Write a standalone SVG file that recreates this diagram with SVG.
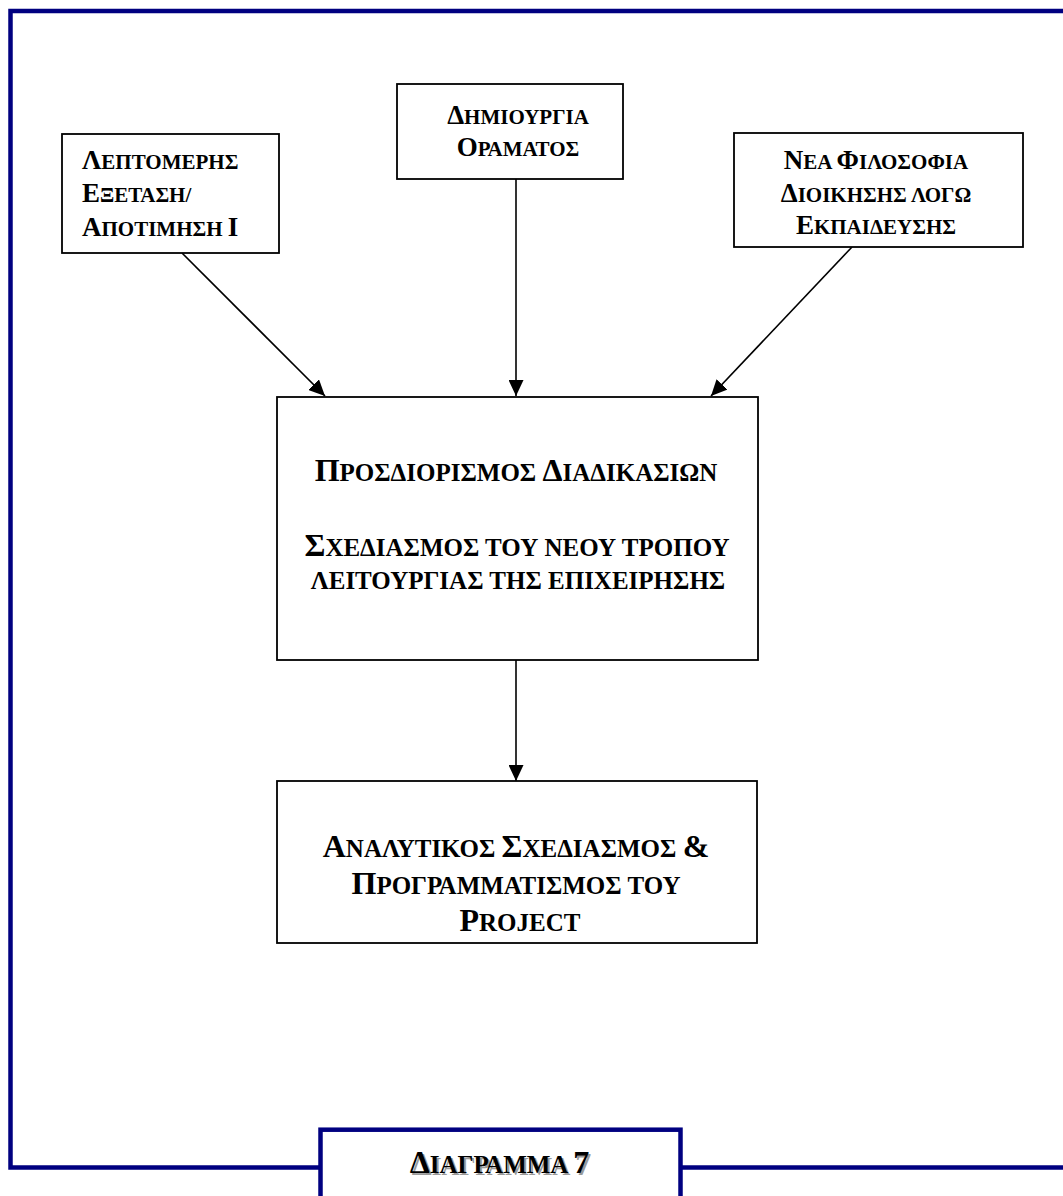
<svg xmlns="http://www.w3.org/2000/svg" width="1063" height="1196" viewBox="0 0 1063 1196">
  <style>
    text { font-family: "Liberation Serif", "Times New Roman", "DejaVu Serif", serif; font-weight: bold; fill: #000; }
    .box { fill: #fff; stroke: #000; stroke-width: 1.8; }
    .frame { fill: none; stroke: #000080; stroke-width: 4.5; }
    .conn { stroke: #000; stroke-width: 1.6; fill: none; marker-end: url(#arrow); }
    .L { font-size: 32px; }
    .S { font-size: 25px; }
    .l { font-size: 27px; }
    .s { font-size: 21px; }
    .mid { text-anchor: middle; }
    .shadow { fill: #9a9a9a; }
  </style>
  <defs>
    <marker id="arrow" markerUnits="userSpaceOnUse" markerWidth="16" markerHeight="15" refX="16" refY="7.5" orient="auto">
      <path d="M0,0 L16,7.5 L0,15 Z" fill="#000"/>
    </marker>
  </defs>

  <rect width="1063" height="1196" fill="#fff"/>

  <!-- page frame -->
  <g id="frame">
    <path class="frame" d="M1063,11 H10.5 V1167.5 H320.5"/>
    <path class="frame" d="M680.5,1167.5 H1063"/>
  </g>

  <!-- connectors -->
  <g id="connectors">
    <line class="conn" x1="182" y1="253" x2="325" y2="396"/>
    <line class="conn" x1="516" y1="179" x2="516" y2="396"/>
    <line class="conn" x1="852" y1="247" x2="711" y2="396"/>
    <line class="conn" x1="516" y1="660" x2="516" y2="781"/>
  </g>

  <g id="node-review">
    <rect class="box" x="62" y="134" width="217" height="119"/>
    <text x="82" y="169"><tspan class="l">Λ</tspan><tspan class="s">ΕΠΤΟΜΕΡΗΣ</tspan></text>
    <text x="82" y="202"><tspan class="l">Ε</tspan><tspan class="s">ΞΕΤΑΣΗ/</tspan></text>
    <text x="82" y="236"><tspan class="l">Α</tspan><tspan class="s">ΠΟΤΙΜΗΣΗ </tspan><tspan class="l">Ι</tspan></text>
  </g>

  <g id="node-vision">
    <rect class="box" x="397" y="84" width="226" height="95"/>
    <text class="mid" x="518" y="124"><tspan class="l">Δ</tspan><tspan class="s">ΗΜΙΟΥΡΓΙΑ</tspan></text>
    <text class="mid" x="518" y="156"><tspan class="l">Ο</tspan><tspan class="s">ΡΑΜΑΤΟΣ</tspan></text>
  </g>

  <g id="node-philosophy">
    <rect class="box" x="734" y="133" width="289" height="114"/>
    <text class="mid" x="876" y="169"><tspan class="l">Ν</tspan><tspan class="s">ΕΑ </tspan><tspan class="l">Φ</tspan><tspan class="s">ΙΛΟΣΟΦΙΑ</tspan></text>
    <text class="mid" x="876" y="202"><tspan class="l">Δ</tspan><tspan class="s">ΙΟΙΚΗΣΗΣ ΛΟΓΩ</tspan></text>
    <text class="mid" x="876" y="234"><tspan class="l">Ε</tspan><tspan class="s">ΚΠΑΙΔΕΥΣΗΣ</tspan></text>
  </g>

  <g id="node-processes">
    <rect class="box" x="277" y="397" width="481" height="263"/>
    <text class="mid" x="516" y="481"><tspan class="L">Π</tspan><tspan class="S">ΡΟΣΔΙΟΡΙΣΜΟΣ </tspan><tspan class="L">Δ</tspan><tspan class="S">ΙΑΔΙΚΑΣΙΩΝ</tspan></text>
    <text class="mid" x="517" y="556"><tspan class="L">Σ</tspan><tspan class="S">ΧΕΔΙΑΣΜΟΣ ΤΟΥ ΝΕΟΥ ΤΡΟΠΟΥ</tspan></text>
    <text class="mid" x="518" y="589"><tspan class="S">ΛΕΙΤΟΥΡΓΙΑΣ ΤΗΣ ΕΠΙΧΕΙΡΗΣΗΣ</tspan></text>
  </g>

  <g id="node-planning">
    <rect class="box" x="277" y="781" width="480" height="162"/>
    <text class="mid" x="516" y="857"><tspan class="L">Α</tspan><tspan class="S">ΝΑΛΥΤΙΚΟΣ </tspan><tspan class="L">Σ</tspan><tspan class="S">ΧΕΔΙΑΣΜΟΣ </tspan><tspan class="L">&amp;</tspan></text>
    <text class="mid" x="516" y="894"><tspan class="L">Π</tspan><tspan class="S">ΡΟΓΡΑΜΜΑΤΙΣΜΟΣ ΤΟΥ</tspan></text>
    <text class="mid" x="520" y="931"><tspan class="L">P</tspan><tspan class="S">ROJECT</tspan></text>
  </g>

  <g id="caption">
    <rect x="320.5" y="1129.7" width="360" height="80" fill="#fff" stroke="#000080" stroke-width="4.5"/>
    <text class="mid shadow" x="501.5" y="1174.5"><tspan class="L">Δ</tspan><tspan class="S">ΙΑΓΡΑΜΜΑ </tspan><tspan class="L">7</tspan></text>
    <text class="mid" x="499.5" y="1172.7"><tspan class="L">Δ</tspan><tspan class="S">ΙΑΓΡΑΜΜΑ </tspan><tspan class="L">7</tspan></text>
  </g>
</svg>
